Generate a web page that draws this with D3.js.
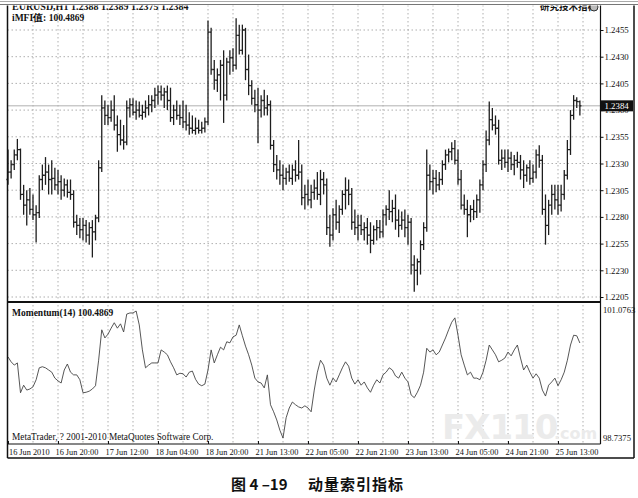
<!DOCTYPE html>
<html><head><meta charset="utf-8">
<script src="https://cdn.jsdelivr.net/npm/d3@7"></script>
<style>body{margin:0;background:#fff}</style>
</head><body><svg id="c" width="638" height="498"></svg>
<script>
// ---- DATA ----
const open = [1.2315,1.2322,1.2329,1.2338,1.2343,1.2301,1.2291,1.2296,1.2287,1.2282,
1.2284,1.2315,1.2319,1.2322,1.2315,1.2316,1.2310,1.2313,1.2305,1.2310,
1.2303,1.2301,1.2275,1.2272,1.2268,1.2272,1.2263,1.2270,1.2266,1.2279,
1.2326,1.2382,1.2375,1.2373,1.2380,1.2366,1.2357,1.2352,1.2350,1.2382,
1.2385,1.2378,1.2380,1.2375,1.2378,1.2382,1.2385,1.2389,1.2394,1.2397,
1.2394,1.2397,1.2389,1.2373,1.2380,1.2375,1.2373,1.2369,1.2366,1.2363,
1.2361,1.2363,1.2361,1.2363,1.2369,1.2453,1.2418,1.2408,1.2413,1.2422,
1.2394,1.2425,1.2429,1.2422,1.2450,1.2436,1.2455,1.2418,1.2403,1.2391,
1.2385,1.2380,1.2389,1.2382,1.2385,1.2347,1.2329,1.2324,1.2319,1.2316,
1.2322,1.2316,1.2324,1.2319,1.2322,1.2298,1.2301,1.2296,1.2303,1.2307,
1.2301,1.2315,1.2310,1.2270,1.2263,1.2282,1.2275,1.2287,1.2301,1.2305,
1.2301,1.2275,1.2270,1.2272,1.2268,1.2270,1.2263,1.2258,1.2268,1.2270,
1.2266,1.2282,1.2287,1.2285,1.2288,1.2277,1.2272,1.2277,1.2270,1.2275,
1.2235,1.2230,1.2238,1.2254,1.2270,1.2319,1.2313,1.2316,1.2310,1.2315,
1.2329,1.2338,1.2341,1.2344,1.2333,1.2315,1.2291,1.2287,1.2282,1.2287,
1.2285,1.2296,1.2310,1.2329,1.2352,1.2371,1.2366,1.2363,1.2333,1.2335,
1.2331,1.2335,1.2329,1.2333,1.2331,1.2324,1.2319,1.2326,1.2316,1.2322,
1.2338,1.2333,1.2287,1.2272,1.2291,1.2301,1.2296,1.2291,1.2301,1.2319,
1.2343,1.2375,1.2389,1.2388];
const high = [1.2343,1.2333,1.2343,1.2353,1.2344,1.2310,1.2305,1.2307,1.2301,1.2291,
1.2319,1.2329,1.2336,1.2329,1.2333,1.2326,1.2324,1.2319,1.2316,1.2315,
1.2315,1.2305,1.2282,1.2279,1.2279,1.2277,1.2275,1.2277,1.2282,1.2333,
1.2394,1.2389,1.2385,1.2389,1.2394,1.2375,1.2371,1.2366,1.2389,1.2391,
1.2391,1.2389,1.2388,1.2385,1.2389,1.2394,1.2394,1.2401,1.2403,1.2403,
1.2401,1.2403,1.2401,1.2385,1.2389,1.2385,1.2389,1.2385,1.2378,1.2375,
1.2373,1.2371,1.2369,1.2373,1.2464,1.2457,1.2427,1.2419,1.2427,1.2436,
1.2429,1.2436,1.2438,1.2466,1.2460,1.2460,1.2457,1.2432,1.2408,1.2399,
1.2401,1.2394,1.2399,1.2394,1.2389,1.2352,1.2338,1.2333,1.2329,1.2326,
1.2329,1.2329,1.2333,1.2352,1.2329,1.2310,1.2315,1.2310,1.2315,1.2322,
1.2324,1.2322,1.2316,1.2282,1.2288,1.2296,1.2291,1.2305,1.2317,1.2315,
1.2307,1.2287,1.2282,1.2282,1.2275,1.2279,1.2275,1.2272,1.2277,1.2277,
1.2287,1.2291,1.2305,1.2296,1.2301,1.2287,1.2285,1.2287,1.2282,1.2279,
1.2244,1.2241,1.2258,1.2275,1.2343,1.2329,1.2324,1.2324,1.2322,1.2333,
1.2343,1.2344,1.2350,1.2352,1.2343,1.2324,1.2301,1.2296,1.2291,1.2296,
1.2301,1.2315,1.2333,1.2361,1.2388,1.2382,1.2375,1.2371,1.2343,1.2343,
1.2343,1.2341,1.2338,1.2341,1.2338,1.2333,1.2329,1.2333,1.2329,1.2343,
1.2347,1.2338,1.2301,1.2296,1.2310,1.2310,1.2310,1.2310,1.2324,1.2352,
1.2380,1.2394,1.2392,1.2389];
const low = [1.2310,1.2316,1.2324,1.2333,1.2296,1.2282,1.2272,1.2282,1.2277,1.2256,
1.2279,1.2305,1.2310,1.2301,1.2301,1.2305,1.2301,1.2296,1.2299,1.2298,
1.2296,1.2270,1.2263,1.2260,1.2258,1.2256,1.2254,1.2242,1.2258,1.2275,
1.2322,1.2366,1.2366,1.2369,1.2361,1.2341,1.2347,1.2343,1.2347,1.2373,
1.2375,1.2371,1.2373,1.2371,1.2373,1.2375,1.2378,1.2382,1.2385,1.2389,
1.2382,1.2380,1.2369,1.2366,1.2371,1.2366,1.2363,1.2361,1.2357,1.2358,
1.2357,1.2358,1.2358,1.2359,1.2366,1.2413,1.2399,1.2397,1.2389,1.2368,
1.2389,1.2413,1.2416,1.2418,1.2432,1.2432,1.2408,1.2394,1.2385,1.2378,
1.2349,1.2373,1.2375,1.2375,1.2343,1.2322,1.2315,1.2310,1.2305,1.2310,
1.2313,1.2310,1.2313,1.2315,1.2291,1.2287,1.2291,1.2288,1.2296,1.2296,
1.2291,1.2301,1.2263,1.2252,1.2258,1.2268,1.2265,1.2282,1.2287,1.2291,
1.2268,1.2263,1.2258,1.2263,1.2258,1.2254,1.2246,1.2254,1.2258,1.2260,
1.2261,1.2272,1.2277,1.2275,1.2268,1.2261,1.2268,1.2261,1.2254,1.2226,
1.2210,1.2216,1.2226,1.2249,1.2266,1.2305,1.2301,1.2303,1.2305,1.2310,
1.2324,1.2331,1.2333,1.2329,1.2310,1.2287,1.2282,1.2261,1.2275,1.2277,
1.2279,1.2284,1.2305,1.2322,1.2347,1.2361,1.2357,1.2329,1.2324,1.2326,
1.2322,1.2324,1.2319,1.2326,1.2315,1.2307,1.2313,1.2310,1.2312,1.2316,
1.2326,1.2282,1.2254,1.2263,1.2282,1.2287,1.2282,1.2285,1.2296,1.2315,
1.2338,1.2371,1.2382,1.2375];
const close = [1.2322,1.2329,1.2338,1.2343,1.2301,1.2291,1.2296,1.2287,1.2282,1.2284,
1.2315,1.2319,1.2322,1.2315,1.2316,1.2310,1.2313,1.2305,1.2310,1.2303,
1.2301,1.2275,1.2272,1.2268,1.2272,1.2263,1.2270,1.2266,1.2279,1.2326,
1.2382,1.2375,1.2373,1.2380,1.2366,1.2357,1.2352,1.2350,1.2382,1.2385,
1.2378,1.2380,1.2375,1.2378,1.2382,1.2385,1.2389,1.2394,1.2397,1.2394,
1.2397,1.2389,1.2373,1.2380,1.2375,1.2373,1.2369,1.2366,1.2363,1.2361,
1.2363,1.2361,1.2363,1.2369,1.2453,1.2418,1.2408,1.2413,1.2422,1.2394,
1.2425,1.2429,1.2422,1.2450,1.2436,1.2455,1.2418,1.2403,1.2391,1.2385,
1.2380,1.2389,1.2382,1.2385,1.2347,1.2329,1.2324,1.2319,1.2316,1.2322,
1.2316,1.2324,1.2319,1.2322,1.2298,1.2301,1.2296,1.2303,1.2307,1.2301,
1.2315,1.2310,1.2270,1.2263,1.2282,1.2275,1.2287,1.2301,1.2305,1.2301,
1.2275,1.2270,1.2272,1.2268,1.2270,1.2263,1.2258,1.2268,1.2270,1.2266,
1.2282,1.2287,1.2285,1.2288,1.2277,1.2272,1.2277,1.2270,1.2275,1.2235,
1.2230,1.2238,1.2254,1.2270,1.2319,1.2313,1.2316,1.2310,1.2315,1.2329,
1.2338,1.2341,1.2344,1.2333,1.2315,1.2291,1.2287,1.2282,1.2287,1.2285,
1.2296,1.2310,1.2329,1.2352,1.2371,1.2366,1.2363,1.2333,1.2335,1.2331,
1.2335,1.2329,1.2333,1.2331,1.2324,1.2319,1.2326,1.2316,1.2322,1.2338,
1.2333,1.2287,1.2272,1.2291,1.2301,1.2296,1.2291,1.2301,1.2319,1.2343,
1.2375,1.2389,1.2388,1.2384];
const momentum = [100.23,100.14,100.08,100.12,99.57,99.71,99.62,99.64,99.68,99.81,
100.03,100.05,100.03,99.99,99.95,99.84,99.79,99.75,99.99,100.10,
99.95,99.90,99.90,99.81,99.57,99.58,99.60,99.64,99.70,100.17,
100.73,100.58,100.65,100.76,100.86,100.76,100.84,100.69,101.02,101.04,
101.04,101.0763,100.82,100.36,100.03,100.08,100.12,100.12,100.12,100.36,
100.32,100.27,100.14,100.03,99.90,99.93,99.92,99.86,99.95,99.97,
99.82,99.73,99.70,99.73,99.99,100.36,100.12,100.27,100.41,100.36,
100.51,100.49,100.60,100.63,100.82,100.62,100.43,100.27,100.08,99.84,
99.77,99.75,99.66,99.90,99.35,99.22,99.07,98.88,98.7375,99.11,
99.29,99.40,99.35,99.31,99.29,99.33,99.29,99.22,99.62,99.95,
100.17,100.08,99.84,99.71,99.84,99.77,99.90,100.03,100.14,100.06,
99.84,99.73,99.81,99.71,99.77,99.66,99.58,99.71,99.81,99.75,
99.90,99.95,100.03,99.99,99.88,99.84,99.95,99.84,99.77,99.53,
99.48,99.58,99.71,99.95,100.39,100.32,100.36,100.27,100.32,100.45,
100.58,100.73,100.87,100.95,100.63,100.27,100.08,99.90,99.95,99.84,
99.84,99.81,99.95,100.17,100.45,100.36,100.27,100.14,100.17,100.21,
100.32,100.25,100.36,100.45,100.21,99.99,100.08,99.95,99.84,99.92,
99.84,99.62,99.51,99.71,99.77,99.84,99.70,99.81,99.95,100.17,
100.45,100.63,100.62,100.4869];
const priceTicks = [1.2455,1.2430,1.2405,1.2380,1.2355,1.2330,1.2305,1.2280,1.2255,1.2230,1.2205];
const timeLabels = ["16 Jun 2010","16 Jun 20:00","17 Jun 12:00","18 Jun 04:00","18 Jun 20:00","21 Jun 13:00","22 Jun 05:00","22 Jun 21:00","23 Jun 13:00","24 Jun 05:00","24 Jun 21:00","25 Jun 13:00"];
const timeLabelBars = [0,16,32,48,64,80,96,112,128,144,160,176];
const momentumRange = [98.7375, 101.0763];
const headerText = "EURUSD,H1 1.2388 1.2389 1.2375 1.2384";
const mfiText = "iMFI值: 100.4869";
const momText = "Momentum(14) 100.4869";
const copyText = "MetaTrader, ? 2001-2010 MetaQuotes Software Corp.";
const cornerText = "研究技术指标";
const captionA = "图 4 –19";
const captionB = "动量索引指标";

// ---- LAYOUT ----
const svg = d3.select("#c");
const L = 7.5, R = 600.5, OUTR = 634, TOP = 5, SEP = 302, BOT = 444, OUTB = 458;
const N = close.length;
const x = d3.scaleLinear().domain([0, N - 1]).range([8, 8 + 3.125 * (N - 1)]);
const yP = d3.scaleLinear().domain([1.2205, 1.2455]).range([297, 30]);
const yM = d3.scaleLinear().domain(momentumRange).range([438, 311]);
const serif = "'Liberation Serif','Times New Roman',serif";

svg.append("rect").attr("width", 638).attr("height", 498).attr("fill", "#fff");

// grid
const gridBars = d3.range(8, N + 8, 8);
svg.append("g").selectAll("line").data(gridBars).join("line")
  .attr("x1", d => x(d)).attr("x2", d => x(d)).attr("y1", TOP).attr("y2", BOT)
  .attr("stroke", "#9a9a9a").attr("stroke-width", 0.8).attr("stroke-dasharray", "1.5,2.5");
svg.append("g").selectAll("line").data(priceTicks).join("line")
  .attr("x1", L).attr("x2", R).attr("y1", d => yP(d)).attr("y2", d => yP(d))
  .attr("stroke", "#9a9a9a").attr("stroke-width", 0.8).attr("stroke-dasharray", "1.5,2.5");

// watermark
const wm = svg.append("g").attr("fill", "#ebebeb").attr("font-family", "'DejaVu Sans',sans-serif").attr("font-weight", "bold");
wm.append("text").attr("x", 442).attr("y", 439).attr("font-size", 34).attr("letter-spacing", -1).text("FX110");
wm.append("text").attr("x", 554).attr("y", 439).attr("font-size", 16).text(".com");

// bid line
svg.append("line").attr("x1", L).attr("x2", R).attr("y1", yP(close[N - 1])).attr("y2", yP(close[N - 1]))
  .attr("stroke", "#b0b0b0").attr("stroke-width", 1);

// bars
const bars = svg.append("g").attr("stroke", "#1e1e1e").attr("stroke-width", 1.3);
const idx = d3.range(N);
bars.selectAll("line.hl").data(idx).join("line").attr("class", "hl")
  .attr("x1", i => x(i)).attr("x2", i => x(i)).attr("y1", i => yP(high[i])).attr("y2", i => yP(low[i]));
bars.selectAll("line.o").data(idx).join("line").attr("class", "o")
  .attr("x1", i => x(i) - 1.6).attr("x2", i => x(i)).attr("y1", i => yP(open[i])).attr("y2", i => yP(open[i]));
bars.selectAll("line.c").data(idx).join("line").attr("class", "c")
  .attr("x1", i => x(i)).attr("x2", i => x(i) + 1.6).attr("y1", i => yP(close[i])).attr("y2", i => yP(close[i]));

// momentum
svg.append("path").datum(momentum)
  .attr("d", d3.line().x((d, i) => x(i)).y(d => yM(d)))
  .attr("fill", "none").attr("stroke", "#444").attr("stroke-width", 0.9);

// frames
const fr = svg.append("g").attr("stroke", "#111").attr("fill", "none");
fr.append("line").attr("x1", L).attr("x2", L).attr("y1", TOP).attr("y2", OUTB).attr("stroke-width", 1.5);
fr.append("line").attr("x1", OUTR).attr("x2", OUTR).attr("y1", TOP).attr("y2", OUTB).attr("stroke-width", 1.5);
fr.append("line").attr("x1", L).attr("x2", OUTR).attr("y1", OUTB).attr("y2", OUTB).attr("stroke-width", 1.5);
fr.append("line").attr("x1", R).attr("x2", R).attr("y1", TOP).attr("y2", BOT).attr("stroke-width", 1.2);
fr.append("line").attr("x1", L).attr("x2", R).attr("y1", SEP).attr("y2", SEP).attr("stroke-width", 2.2);
fr.append("line").attr("x1", L).attr("x2", R).attr("y1", BOT).attr("y2", BOT).attr("stroke-width", 1.2);

// price axis
const pa = svg.append("g").attr("transform", `translate(${R},0)`)
  .call(d3.axisRight(yP).tickValues(priceTicks).tickFormat(d3.format(".4f")).tickSize(3).tickPadding(1));
pa.select(".domain").remove();
pa.selectAll("text").attr("font-family", serif).attr("font-size", 8.8).attr("fill", "#111");
pa.selectAll("line").attr("stroke", "#111");

// current price box
const cy = yP(close[N - 1]);
svg.append("rect").attr("x", R).attr("y", cy - 5.5).attr("width", OUTR - R - 1).attr("height", 11).attr("fill", "#111");
svg.append("text").attr("x", R + 4).attr("y", cy + 3.3).attr("font-family", serif).attr("font-size", 8.8)
  .attr("fill", "#fff").text(d3.format(".4f")(close[N - 1]));

// momentum labels
svg.append("text").attr("x", R + 2.5).attr("y", 313).attr("font-family", serif).attr("font-size", 8.6).attr("fill", "#111").text(d3.format(".4f")(momentumRange[1]));
svg.append("text").attr("x", R + 2.5).attr("y", 441).attr("font-family", serif).attr("font-size", 8.6).attr("fill", "#111").text(d3.format(".4f")(momentumRange[0]));

// time axis
const ta = svg.append("g").attr("transform", `translate(0,${BOT})`)
  .call(d3.axisBottom(x).tickValues(timeLabelBars).tickFormat((d, i) => timeLabels[i]).tickSize(-3).tickPadding(5));
ta.select(".domain").remove();
ta.selectAll("line").attr("stroke", "#111");
ta.selectAll("text").attr("font-family", serif).attr("font-size", 8.3).attr("fill", "#111")
  .attr("text-anchor", "start").attr("dx", (d, i) => i === 0 ? 0.5 : -3);

// header texts
const t = svg.append("g").attr("font-family", serif).attr("fill", "#111");
t.append("text").attr("x", 12).attr("y", 9.5).attr("font-size", 10).attr("font-weight", "bold").text(headerText);
t.append("text").attr("x", 12).attr("y", 21).attr("font-size", 9.5).attr("font-weight", "bold").text(mfiText);
t.append("text").attr("x", 540).attr("y", 10).attr("font-size", 9.5).attr("font-family", "'Noto Sans CJK SC',sans-serif").attr("font-weight", "bold").text(cornerText);
svg.append("circle").attr("cx", 594).attr("cy", 7).attr("r", 4).attr("fill", "#bbb").attr("stroke", "#333").attr("stroke-width", 1);
svg.append("rect").attr("x", 0).attr("y", 0).attr("width", 638).attr("height", 5.5).attr("fill", "#fff");
svg.append("line").attr("x1", 0).attr("x2", 638).attr("y1", 1.5).attr("y2", 1.5).attr("stroke", "#aaa");
svg.append("line").attr("x1", 0).attr("x2", 638).attr("y1", 4.5).attr("y2", 4.5).attr("stroke", "#777").attr("stroke-width", 1.2);
t.append("text").attr("x", 12).attr("y", 316).attr("font-size", 9.5).attr("font-weight", "bold").text(momText);
t.append("text").attr("x", 12).attr("y", 440).attr("font-size", 9.3).text(copyText);

// caption
const cap = svg.append("g").attr("font-family", "'Noto Sans CJK SC',sans-serif").attr("font-weight", "bold").attr("font-size", 15).attr("fill", "#111");
cap.append("text").attr("x", 231).attr("y", 490).text(captionA);
cap.append("text").attr("x", 308).attr("y", 490).attr("letter-spacing", 1).text(captionB);
</script></body></html>
